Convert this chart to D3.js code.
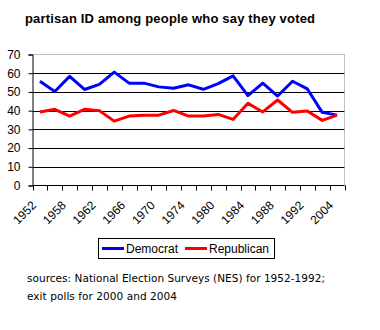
<!DOCTYPE html>
<html>
<head>
<meta charset="utf-8">
<script src="https://cdn.jsdelivr.net/npm/d3@7"></script>
<style>
  body { margin: 0; background: #fff; }
  svg { display: block; }
</style>
</head>
<body>
<div id="chart"></div>
<script>
// 21 survey years (category axis), only every other one is labelled
const years = ["1952", "1956", "1958", "1960", "1962", "1964", "1966", "1968", "1970", "1972",
  "1974", "1976", "1980", "1982", "1984", "1986", "1988", "1990", "1992", "2000", "2004"];
const democrat = [55.7, 50.2, 58.3, 51.3, 54, 60.6, 54.7, 54.7, 52.7, 52, 53.8,
  51.4, 54.4, 58.6, 48, 54.7, 47.8, 55.7, 51.6, 39.1, 37.6];
const republican = [39.3, 40.7, 37.1, 40.7, 40, 34.4, 37.1, 37.6, 37.6, 40.1, 37.1,
  37.1, 38, 35.3, 43.9, 39.3, 45.7, 39.1, 39.8, 34.8, 37.6];
const yTicks = [0, 10, 20, 30, 40, 50, 60, 70];
const labelledYears = ["1952", "1958", "1962", "1966", "1970", "1974", "1980", "1984", "1988", "1992", "2004"];

const svgWidth = 380, svgHeight = 330;
const plotLeft = 32.5, plotRight = 344.5, plotTop = 54.5, plotBottom = 185.5;

const svg = d3.select('#chart')
    .append('svg')
    .attr('width', svgWidth)
    .attr('height', svgHeight)
    .style('font-family', '"Liberation Sans", Arial, sans-serif');

// title
svg.append('text')
    .attr('x', 25)
    .attr('y', 22.5)
    .attr('textLength', 290)
    .attr('lengthAdjust', 'spacing')
    .style('font-size', '13px')
    .style('font-weight', 'bold')
    .text('partisan ID among people who say they voted');

const xScale = d3.scaleBand()
    .domain(years)
    .range([plotLeft, plotRight]);

const yScale = d3.scaleLinear()
    .domain([0, 70])
    .range([plotBottom, plotTop]);

// gridlines (top one is the dotted plot border)
svg.append('g')
    .selectAll('line')
    .data(yTicks.filter(d => d > 0 && d < 70))
    .join('line')
    .attr('x1', plotLeft)
    .attr('x2', plotRight)
    .attr('y1', d => Math.round(yScale(d)) + 0.5)
    .attr('y2', d => Math.round(yScale(d)) + 0.5)
    .attr('stroke', '#000')
    .attr('stroke-width', 1);

// plot area border, top and right, dotted gray
svg.append('path')
    .attr('d', `M${plotLeft},${plotTop}H${plotRight}V${plotBottom}`)
    .attr('fill', 'none')
    .attr('stroke', '#808080')
    .attr('stroke-width', 1)
    .attr('stroke-dasharray', '1,1');

// y axis
const yAxis = svg.append('g')
    .attr('transform', `translate(${plotLeft},0)`)
    .call(d3.axisLeft(yScale).tickValues(yTicks).tickSize(4).tickPadding(8));
yAxis.select('.domain').attr('stroke', '#000');
yAxis.selectAll('text')
    .style('font-size', '12px')
    .style('font-family', '"Liberation Sans", Arial, sans-serif')
    .attr('fill', '#000');

// x axis: ticks between categories
const xAxisG = svg.append('g');
xAxisG.append('line')
    .attr('x1', plotLeft)
    .attr('x2', plotRight)
    .attr('y1', plotBottom)
    .attr('y2', plotBottom)
    .attr('stroke', '#000');
xAxisG.selectAll('.tick')
    .data(years.map(y => xScale(y)).concat([plotRight]))
    .join('line')
    .attr('class', 'tick')
    .attr('x1', d => Math.round(d) + 0.5)
    .attr('x2', d => Math.round(d) + 0.5)
    .attr('y1', plotBottom)
    .attr('y2', plotBottom + 5)
    .attr('stroke', '#000');
xAxisG.selectAll('text')
    .data(labelledYears)
    .join('text')
    .attr('transform', d => `translate(${xScale(d) + xScale.bandwidth() / 2 - 3},206) rotate(-45)`)
    .attr('text-anchor', 'end')
    .style('font-size', '12px')
    .text(d => d);

const line = d3.line()
    .x((d, i) => xScale(years[i]) + xScale.bandwidth() / 2)
    .y(d => yScale(d));

svg.append('path')
    .datum(democrat)
    .attr('d', line)
    .attr('fill', 'none')
    .attr('stroke', '#0000ff')
    .attr('stroke-width', 3)
    .attr('stroke-linejoin', 'round');

svg.append('path')
    .datum(republican)
    .attr('d', line)
    .attr('fill', 'none')
    .attr('stroke', '#ff0000')
    .attr('stroke-width', 3)
    .attr('stroke-linejoin', 'round');

// legend
const legend = svg.append('g');
legend.append('rect')
    .attr('x', 98.5)
    .attr('y', 238.5)
    .attr('width', 176)
    .attr('height', 20)
    .attr('fill', '#fff')
    .attr('stroke', '#000');
const items = [
    { name: 'Democrat', color: '#0000ff', x: 102 },
    { name: 'Republican', color: '#ff0000', x: 185 }
];
items.forEach(it => {
    legend.append('line')
        .attr('x1', it.x)
        .attr('x2', it.x + 22)
        .attr('y1', 248.5)
        .attr('y2', 248.5)
        .attr('stroke', it.color)
        .attr('stroke-width', 3);
    legend.append('text')
        .attr('x', it.x + 24)
        .attr('y', 253)
        .style('font-size', '12px')
        .text(it.name);
});

// sources note
const notes = ['sources: National Election Surveys (NES) for 1952-1992;', 'exit polls for 2000 and 2004'];
const noteWidths = [298, 150];
svg.append('g')
    .selectAll('text')
    .data(notes)
    .join('text')
    .attr('x', 27)
    .attr('y', (d, i) => 282 + i * 17.5)
    .attr('textLength', (d, i) => noteWidths[i])
    .attr('lengthAdjust', 'spacing')
    .style('font-family', '"DejaVu Sans", Tahoma, sans-serif')
    .style('font-size', '10.5px')
    .text(d => d);
</script>
</body>
</html>
